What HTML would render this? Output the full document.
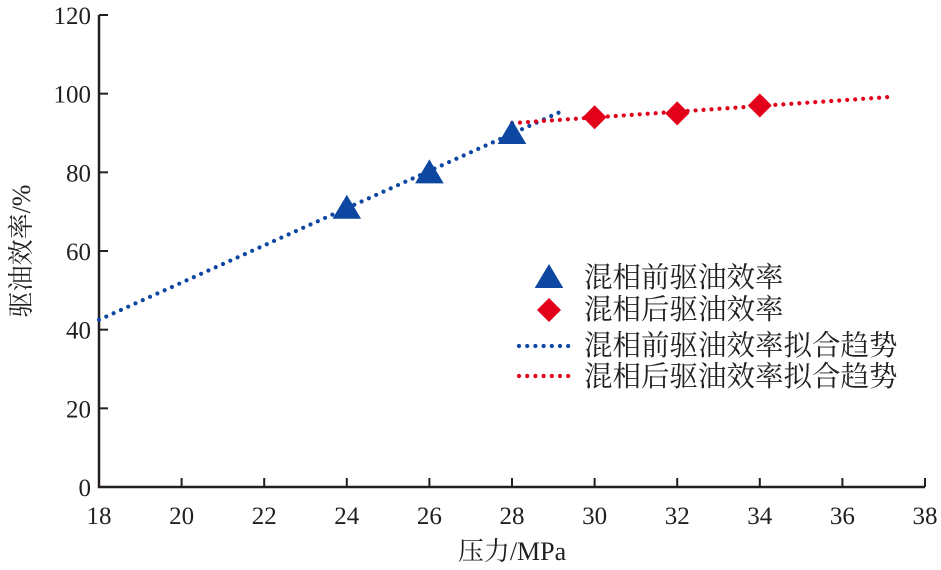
<!DOCTYPE html>
<html><head><meta charset="utf-8">
<style>
html,body{margin:0;padding:0;background:#fff;}
svg{display:block;font-family:"Liberation Serif","Noto Serif CJK SC",serif;}
</style></head>
<body>
<svg id="chart" width="941" height="570" viewBox="0 0 941 570"></svg>
<script>
const xTicks=[18,20,22,24,26,28,30,32,34,36,38];
const yTicks=[0,20,40,60,80,100,120];
const beforeX=[24,26,28];
const beforeY=[71,80,90];
const afterX=[30,32,34];
const afterY=[94,95,97];
const beforeFitX=[18,29.2];
const beforeFitY=[42.5,95.5];
const afterFitX=[28,37.2];
const afterFitY=[92.5,99.2];

const NS='http://www.w3.org/2000/svg';
const svg=document.getElementById('chart');
const X0=99,X1=925,Y0=487,Y1=15;
const sx=v=>X0+(v-18)/(38-18)*(X1-X0);
const sy=v=>Y0-(v-0)/(120-0)*(Y0-Y1);
function el(t,a,txt){const e=document.createElementNS(NS,t);for(const k in a)e.setAttribute(k,a[k]);if(txt!==undefined)e.textContent=txt;svg.appendChild(e);return e;}

let ax=el('path',{d:`M${X0},${Y1} L${X0},${Y0} L${X1},${Y0}`,fill:'none',stroke:'#231f20','stroke-width':2.5});


xTicks.forEach(v=>{
  const t=el('line',{x1:sx(v),x2:sx(v),y1:Y0,y2:Y0-9,stroke:'#231f20','stroke-width':2});
  
  
  const l=el('text',{x:sx(v),y:Y0+37,'text-anchor':'middle','font-size':25,fill:'#231f20'},v);
  
  
});
yTicks.forEach(v=>{
  const t=el('line',{x1:X0,x2:X0+9,y1:sy(v),y2:sy(v),stroke:'#231f20','stroke-width':2});
  
  
  const l=el('text',{x:X0-8,y:sy(v)+9,'text-anchor':'end','font-size':25,fill:'#231f20'},v);
  
  
});
let xt=el('text',{x:512,y:560,'text-anchor':'middle','font-size':26,fill:'#231f20'},'压力/MPa');


let yt=el('text',{x:0,y:0,'text-anchor':'middle','font-size':26,fill:'#231f20',transform:`translate(30,251) rotate(-90)`},'驱油效率/%');



const BLUE='#0d47a1',RED='#e2001a';
let bf=el('line',{x1:sx(beforeFitX[0]),y1:sy(beforeFitY[0]),x2:sx(beforeFitX[1]),y2:sy(beforeFitY[1]),stroke:BLUE,'stroke-width':4.2,'stroke-dasharray':'0 8','stroke-linecap':'round'});


let af=el('line',{x1:sx(afterFitX[0]),y1:sy(afterFitY[0]),x2:sx(afterFitX[1]),y2:sy(afterFitY[1]),stroke:RED,'stroke-width':4.2,'stroke-dasharray':'0 8','stroke-linecap':'round'});



function tri(cx,cy,s){return `${cx},${cy-s} ${cx-s*1.1},${cy+s*0.85} ${cx+s*1.1},${cy+s*0.85}`;}
function dia(cx,cy,s){return `${cx},${cy-s} ${cx+s},${cy} ${cx},${cy+s} ${cx-s},${cy}`;}
beforeX.forEach((v,i)=>{
  const p=el('polygon',{points:tri(sx(v),sy(beforeY[i]),13),fill:BLUE});
  
  
});
afterX.forEach((v,i)=>{
  const p=el('polygon',{points:dia(sx(v),sy(afterY[i]),12),fill:RED});
  
  
});

// legend
const lx=549;
let g1=el('polygon',{points:tri(lx,277,13),fill:BLUE});


let g2=el('polygon',{points:dia(lx,310,12),fill:RED});


let g3=el('line',{x1:519,x2:569,y1:346,y2:346,stroke:BLUE,'stroke-width':4.2,'stroke-dasharray':'0 8.2','stroke-linecap':'round'});


let g4=el('line',{x1:519,x2:569,y1:376,y2:376,stroke:RED,'stroke-width':4.2,'stroke-dasharray':'0 8.2','stroke-linecap':'round'});


const labels=['混相前驱油效率','混相后驱油效率','混相前驱油效率拟合趋势','混相后驱油效率拟合趋势'];
const ly=[287,319,355,386];
labels.forEach((s,i)=>{
  const t=el('text',{x:584,y:ly[i],'font-size':28.5,fill:'#231f20'},s);
  
  
});
</script>
</body></html>
